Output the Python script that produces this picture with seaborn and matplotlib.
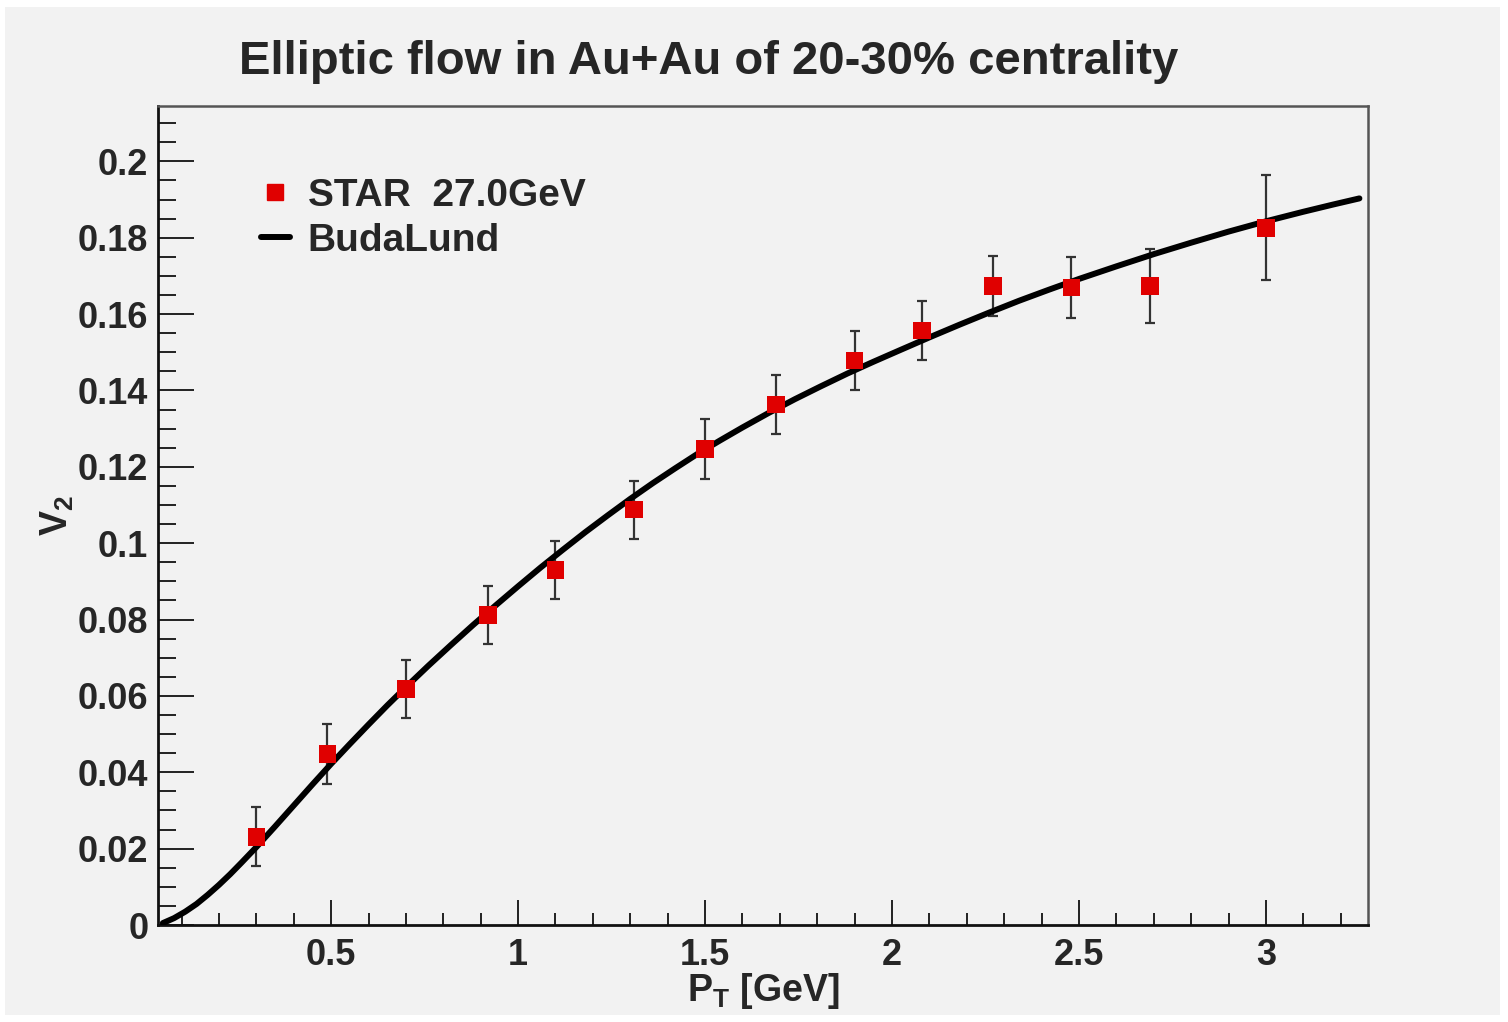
import numpy as np
import pandas as pd
import matplotlib
matplotlib.use('Agg')
import matplotlib.pyplot as plt
import seaborn as sns
from matplotlib.lines import Line2D
from matplotlib.patches import Rectangle
from matplotlib.ticker import MultipleLocator

# STAR 27 GeV data points
pt_star = [0.30, 0.49, 0.70, 0.92, 1.10, 1.31, 1.50, 1.69, 1.90, 2.08, 2.27, 2.48, 2.69, 3.00]
v2_star = [0.0231, 0.0448, 0.0618, 0.0812, 0.0930, 0.1088, 0.1247, 0.1363, 0.1478, 0.1557,
           0.1673, 0.1670, 0.1673, 0.1826]
v2_err = [0.0077, 0.0078, 0.0077, 0.0077, 0.0077, 0.0076, 0.0079, 0.0078, 0.0077, 0.0076,
          0.0079, 0.0079, 0.0097, 0.0137]

# BudaLund curve
pt_bl = [0.05, 0.08, 0.11, 0.14, 0.17, 0.20, 0.23, 0.26, 0.30, 0.35, 0.40, 0.45, 0.50, 0.55,
         0.60, 0.65, 0.70, 0.76, 0.82, 0.88, 0.94, 1.00, 1.06, 1.12, 1.18, 1.24, 1.30, 1.36,
         1.42, 1.48, 1.54, 1.60, 1.67, 1.74, 1.81, 1.88, 1.95, 2.02, 2.10, 2.18, 2.26, 2.34,
         2.42, 2.50, 2.60, 2.70, 2.80, 2.90, 3.00, 3.10, 3.18, 3.25]
v2_bl = [0.0005, 0.0018, 0.0035, 0.0055, 0.0079, 0.0105, 0.0133, 0.0163, 0.0204, 0.0258,
         0.0313, 0.0368, 0.0422, 0.0474, 0.0525, 0.0575, 0.0623, 0.0679, 0.0733, 0.0786,
         0.0837, 0.0887, 0.0936, 0.0983, 0.1029, 0.1073, 0.1116, 0.1157, 0.1196, 0.1234,
         0.1269, 0.1303, 0.1341, 0.1377, 0.1411, 0.1444, 0.1475, 0.1505, 0.1539, 0.1572,
         0.1604, 0.1635, 0.1664, 0.1692, 0.1725, 0.1757, 0.1787, 0.1816, 0.1843, 0.1868,
         0.1887, 0.1903]

star = pd.DataFrame({'pt': pt_star, 'v2': v2_star, 'err': v2_err})
budalund = pd.DataFrame({'pt': pt_bl, 'v2': v2_bl})

sns.set_theme(style='ticks')
plt.rcParams['font.family'] = ['Liberation Sans', 'DejaVu Sans']
plt.rcParams['font.weight'] = 'bold'
plt.rcParams['mathtext.fontset'] = 'custom'
plt.rcParams['mathtext.rm'] = 'Liberation Sans:bold'
plt.rcParams['mathtext.bf'] = 'Liberation Sans:bold'
plt.rcParams['mathtext.it'] = 'Liberation Sans:bold'

bg = '#f2f2f2'
fig = plt.figure(figsize=(15.08, 10.22), dpi=100)
fig.patch.set_facecolor('white')
fig.add_artist(Rectangle((5 / 1508, 7 / 1022), 1495 / 1508, 1008 / 1022,
                         transform=fig.transFigure, facecolor=bg, edgecolor='none', zorder=-10))
ax = fig.add_axes([158 / 1508, 97 / 1022, 1210 / 1508, 819 / 1022])
ax.set_facecolor(bg)

ax.errorbar(star['pt'], star['v2'], yerr=star['err'], fmt='none', ecolor='#333333',
            elinewidth=1.6, capsize=3.5, capthick=1.6, zorder=2)
sns.lineplot(data=budalund, x='pt', y='v2', sort=False, color='black', linewidth=4.3,
             ax=ax, zorder=3)
sns.scatterplot(data=star, x='pt', y='v2', marker='s', color='#e00000', s=160,
                edgecolor='none', ax=ax, zorder=4)

ax.set_xlim(0.037, 3.273)
ax.set_ylim(0, 0.2145)
ax.xaxis.set_major_locator(MultipleLocator(0.5))
ax.xaxis.set_minor_locator(MultipleLocator(0.1))
ax.yaxis.set_major_locator(MultipleLocator(0.02))
ax.yaxis.set_minor_locator(MultipleLocator(0.005))
ax.xaxis.set_major_formatter(plt.FuncFormatter(lambda v, p: f'{v:g}'))
ax.yaxis.set_major_formatter(plt.FuncFormatter(lambda v, p: f'{v:g}'))

ax.tick_params(axis='both', which='both', direction='in', top=False, right=False,
               width=1.4, color='#222222', labelsize=26)
ax.tick_params(axis='y', which='major', length=26, pad=7)
ax.tick_params(axis='y', which='minor', length=13)
ax.tick_params(axis='x', which='major', length=18, pad=9)
ax.tick_params(axis='x', which='minor', length=9)
for lab in ax.get_xticklabels() + ax.get_yticklabels():
    lab.set_fontweight('bold')

for side in ['left', 'bottom']:
    ax.spines[side].set_color('#111111')
    ax.spines[side].set_linewidth(2.0)
for side in ['top', 'right']:
    ax.spines[side].set_visible(True)
    ax.spines[side].set_color('#555555')
    ax.spines[side].set_linewidth(1.8)

ax.set_xlabel(r'$\mathbf{P_T}$ [GeV]', fontsize=27, fontweight='bold', labelpad=-1)
ax.set_ylabel(r'$\mathbf{V_2}$', fontsize=27, fontweight='bold', labelpad=1)

fig.text(709 / 1508, 1 - 62 / 1022, 'Elliptic flow in Au+Au of 20-30% centrality',
         ha='center', va='center', fontsize=34, fontweight='bold')

handles = [Line2D([], [], marker='s', color='#e00000', linestyle='none', markersize=11),
           Line2D([], [], color='black', linewidth=4.3)]
ax.legend(handles, ['STAR  27.0GeV', 'BudaLund'], loc='upper left',
          bbox_to_anchor=(0.085, 0.912), frameon=False, prop={'weight': 'bold', 'size': 28},
          handlelength=0.75, handletextpad=0.45, labelspacing=0.22, borderpad=0, borderaxespad=0)

fig.savefig('out.png', dpi=100)
